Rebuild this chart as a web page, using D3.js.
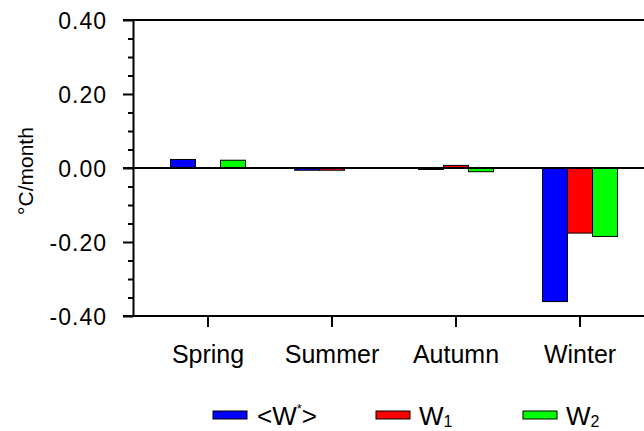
<!DOCTYPE html>
<html>
<head>
<meta charset="utf-8">
<script src="https://cdn.jsdelivr.net/npm/d3@7"></script>
<style>
  html, body { margin: 0; padding: 0; background: #fff; }
  svg { display: block; font-family: "Liberation Sans", Arial, Helvetica, sans-serif; }
</style>
</head>
<body>
<svg id="chart" width="644" height="431"></svg>
<script>
// Seasonal tendencies (°C/month) for the three terms
const seasons = ["Spring", "Summer", "Autumn", "Winter"];
const seriesKeys = ["Wstar", "W1", "W2"];
const wStar = [0.023, -0.006, -0.004, -0.361];
const w1 = [0.000, -0.006, 0.007, -0.176];
const w2 = [0.021, -0.001, -0.010, -0.185];
const seriesColors = ["#0000ff", "#ff0000", "#00ff00"];
const majorTicks = [-0.4, -0.2, 0.0, 0.2, 0.4];
const minorTicks = [-0.35, -0.3, -0.25, -0.15, -0.1, -0.05, 0.05, 0.1, 0.15, 0.25, 0.3, 0.35];
const yLabel = "°C/month";

const values = [wStar, w1, w2];

const svg = d3.select("#chart");
const plotLeft = 133, plotRight = 644, plotTop = 20, plotBottom = 316;

const x = d3.scaleBand().domain(seasons).range([146, 642]).padding(0);
const xs = d3.scaleBand().domain(seriesKeys).range([-37.5, 37.5]).padding(0);
const y = d3.scaleLinear().domain([-0.4, 0.4]).range([plotBottom, plotTop]);

// Bars
seriesKeys.forEach((k, si) => {
  svg.append("g")
    .selectAll("rect")
    .data(seasons.map((s, i) => ({ s, v: values[si][i] })))
    .join("rect")
    .attr("x", d => x(d.s) + x.bandwidth() / 2 + xs(k))
    .attr("width", xs.bandwidth())
    .attr("y", d => y(Math.max(0, d.v)))
    .attr("height", d => Math.abs(y(d.v) - y(0)))
    .attr("fill", seriesColors[si])
    .attr("stroke", "#000")
    .attr("stroke-width", 1);
});

// Horizontal rules at top, zero and bottom
svg.append("g")
  .selectAll("line")
  .data([0.4, 0, -0.4])
  .join("line")
  .attr("x1", plotLeft - 10).attr("x2", plotRight)
  .attr("y1", d => y(d)).attr("y2", d => y(d))
  .attr("stroke", "#000").attr("stroke-width", 2);

// Y axis: major ticks with labels (plain hyphen for negatives)
const yAxis = svg.append("g")
  .attr("transform", `translate(${plotLeft},0)`)
  .call(d3.axisLeft(y).tickValues(majorTicks).tickSize(10).tickPadding(16)
    .tickFormat(d => d.toFixed(2)).tickSizeOuter(0));
yAxis.select(".domain").attr("stroke-width", 2);
yAxis.selectAll(".tick line").attr("stroke-width", 2);
yAxis.selectAll(".tick text")
  .attr("font-size", 23)
  .attr("letter-spacing", 1)
  .attr("font-family", "Liberation Sans, Arial, sans-serif")
  .attr("fill", "#000")
  .attr("dy", "0.36em");

// Y axis: minor ticks
const yMinor = svg.append("g")
  .attr("transform", `translate(${plotLeft},0)`)
  .call(d3.axisLeft(y).tickValues(minorTicks).tickSize(5).tickFormat("").tickSizeOuter(0));
yMinor.select(".domain").remove();
yMinor.selectAll(".tick line").attr("stroke-width", 2);

// X axis: ticks below the frame
const xAxis = svg.append("g")
  .attr("transform", `translate(0,${plotBottom})`)
  .call(d3.axisBottom(x).tickSize(11).tickPadding(18).tickSizeOuter(0));
xAxis.select(".domain").remove();
xAxis.selectAll(".tick line").attr("stroke-width", 2);
xAxis.selectAll(".tick text")
  .attr("font-size", 25)
  .attr("font-family", "Liberation Sans, Arial, sans-serif")
  .attr("fill", "#000")
  .attr("dy", "0.71em");

// Y axis title
svg.append("text")
  .attr("transform", "translate(33,171) rotate(-90)")
  .attr("text-anchor", "middle")
  .attr("font-size", 21)
  .text(yLabel);

// Legend
const legendX = [213, 376, 523];
const legend = svg.append("g");
seriesKeys.forEach((k, i) => {
  const g = legend.append("g").attr("transform", `translate(${legendX[i]},411)`);
  g.append("rect")
    .attr("width", 34).attr("height", 8)
    .attr("fill", seriesColors[i])
    .attr("stroke", "#000").attr("stroke-width", 1);
  const t = g.append("text")
    .attr("x", i === 0 ? 44 : 43)
    .attr("y", 14)
    .attr("font-size", 26);
  if (i === 0) {
    t.append("tspan").text("<W");
    t.append("tspan").attr("font-size", 13).attr("dy", -12).text("*");
    t.append("tspan").attr("dy", 12).text(">");
  } else {
    t.append("tspan").text("W");
    t.append("tspan").attr("font-size", 16).attr("dy", 2).text(i === 1 ? "1" : "2");
  }
});
</script>
</body>
</html>
